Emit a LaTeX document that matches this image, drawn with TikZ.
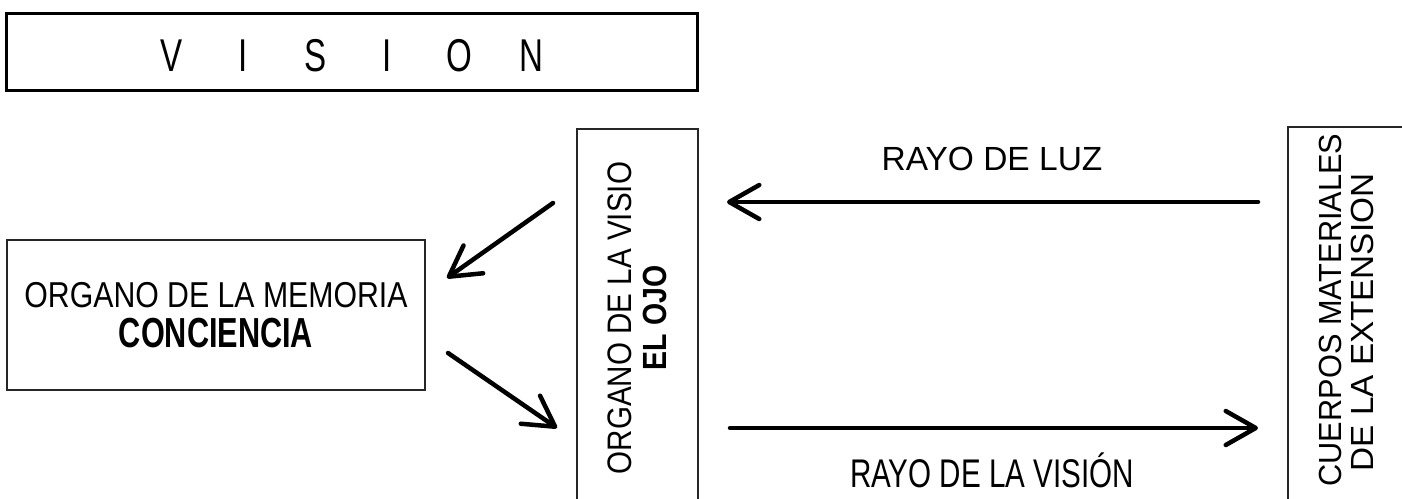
\documentclass[tikz,border=0pt]{standalone}
\usepackage{fontspec}
\setmainfont{Liberation Sans}
\newfontfamily\fvision[FakeStretch=0.72]{Liberation Sans}
\newfontfamily\fmem[FakeStretch=0.84]{Liberation Sans}
\newfontfamily\fmemb[FakeStretch=0.73]{Liberation Sans}
\newfontfamily\feye[FakeStretch=0.87]{Liberation Sans}
\newfontfamily\feyeb[FakeStretch=0.85]{Liberation Sans}
\newfontfamily\fcuer[FakeStretch=0.96]{Liberation Sans}
\newfontfamily\fcuerb[FakeStretch=1.04]{Liberation Sans}
\newfontfamily\fvis[FakeStretch=0.74]{Liberation Sans}
\usetikzlibrary{arrows.meta}
\newcommand{\vl}[1]{\makebox[72pt][c]{#1}}
\newcommand{\pad}[1]{\rule{#1}{0pt}}
\begin{document}
\begin{tikzpicture}[x=1pt,y=-1pt,
  boxthin/.style={draw=black!85, line width=1.5pt, inner sep=0pt, align=center},
  arr/.style={line width=4.5pt, line cap=round, -{Straight Barb[length=30pt,width=34pt,line cap=round,line join=round]}},
]
\useasboundingbox[fill=white] (0,0) rectangle (1402,498);

% title box
\node[draw, line width=3pt, minimum width=691pt, minimum height=77pt, inner sep=0pt,
      text height=39pt, text depth=0pt,
      font=\fvision\fontsize{46}{46}\selectfont] (vision) at (351.5,51.5)
  {\vl{V}\vl{I}\vl{S}\vl{I}\vl{O}\vl{N}};

% memory box
\node[boxthin, minimum width=418pt, minimum height=150pt,
      font=\fmem\fontsize{36}{40}\selectfont] (mem) at (216,315)
  {ORGANO DE LA MEMORIA\\{\fmemb\bfseries\fontsize{42}{40}\selectfont CONCIENCIA}};

% eye box
\node[boxthin, rotate=90, minimum width=378pt, minimum height=121pt,
      font=\feye\fontsize{34}{35.5}\selectfont] (eye) at (637.5,318)
  {ORGANO DE LA VISIO\\{\feyeb\bfseries\fontsize{33.5}{35.5}\selectfont EL OJO}};

% bodies box
\node[boxthin, rotate=90, minimum width=378pt, minimum height=116pt,
      font=\fcuer\fontsize{32}{32}\selectfont] (body) at (1346,316)
  {\pad{12pt}CUERPOS MATERIALES\\{\fcuerb DE LA EXTENSION}\pad{13pt}};

% labels
\node[font=\fontsize{33.5}{36}\selectfont, inner sep=0pt] (luz) at (992,159) {RAYO DE LUZ};
\node[font=\fvis\fontsize{40}{42}\selectfont, inner sep=0pt, text height=29pt, text depth=0pt] (rvis) at (992,473) {RAYO DE LA VISIÓN};

% arrow ends
\coordinate (l1s) at (1258,202);
\coordinate (l1e) at (727,202);
\coordinate (l2s) at (730,428);
\coordinate (l2e) at (1258,428);
\coordinate (d1s) at (553,203);
\coordinate (d1e) at (447,278);
\coordinate (d2s) at (448,353);
\coordinate (d2e) at (557,428);

\draw[arr] (l1s) -- (l1e);
\draw[arr] (l2s) -- (l2e);
\draw[arr] (d1s) -- (d1e);
\draw[arr] (d2s) -- (d2e);
\end{tikzpicture}
\end{document}
